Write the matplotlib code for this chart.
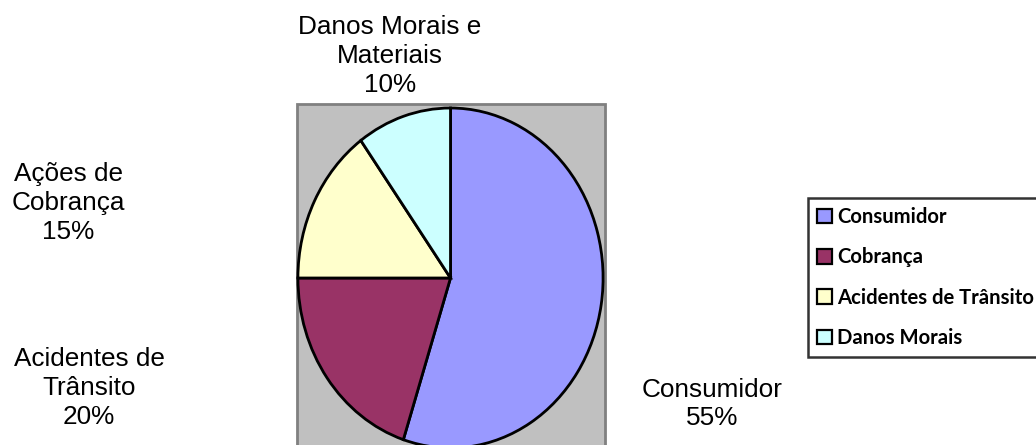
import matplotlib
matplotlib.use("Agg")
import matplotlib.pyplot as plt
from matplotlib.patches import Rectangle

# ---- data ----
categories = ["Consumidor", "Cobrança", "Acidentes de Trânsito", "Danos Morais"]
values = [55, 20, 15, 10]
slice_labels = ["Consumidor", "Acidentes de\nTrânsito", "Ações de\nCobrança", "Danos Morais e\nMateriais"]
colors = ["#9999FF", "#993366", "#FFFFCC", "#CCFFFF"]

W, H = 1036, 445
fig = plt.figure(figsize=(W / 100, H / 100), dpi=100)

# background axes in pixel coordinates
bg = fig.add_axes([0, 0, 1, 1])
bg.set_xlim(0, W)
bg.set_ylim(H, 0)
bg.axis("off")
bg.add_patch(Rectangle((297, 104), 308, 400, facecolor="#C0C0C0",
                       edgecolor="#808080", linewidth=2.0, zorder=1))

# pie axes (elliptical pie)
px0, px1, py0, py1 = 297, 604, 107, 449
pax = fig.add_axes([px0 / W, 1 - py1 / H, (px1 - px0) / W, (py1 - py0) / H])
wedges, _ = pax.pie(values, colors=colors, startangle=90, counterclock=False,
                    radius=1, wedgeprops=dict(edgecolor="black", linewidth=2.0))
pax.set_aspect("auto")
pax.set_xlim(-1.006, 1.006)
pax.set_ylim(-1.006, 1.006)
pax.axis("off")
pax.patch.set_visible(False)

# slice labels
label_pos = [(712, 404), (89, 388), (68, 203), (390, 56)]
font = ["Liberation Sans", "DejaVu Sans"]
for lab, v, (x, y) in zip(slice_labels, values, label_pos):
    bg.text(x, y, f"{lab}\n{v}%", ha="center", va="center", fontsize=18.8,
            family=font, linespacing=1.25, color="black")

# legend
leg = fig.legend(wedges, categories, loc="upper left",
                 bbox_to_anchor=(808 / W, 1 - 198 / H), borderaxespad=0,
                 prop=dict(family=["Lato", "DejaVu Sans"], weight="bold", size=14.6),
                 frameon=True, fancybox=False, edgecolor="black",
                 handlelength=0.74, handleheight=0.74, handletextpad=0.25,
                 labelspacing=1.0, borderpad=0.45)
leg.get_frame().set_linewidth(1.8)
for h in leg.legend_handles:
    h.set_edgecolor("black")
    h.set_linewidth(1.6)

fig.savefig("out.png", dpi=100)
